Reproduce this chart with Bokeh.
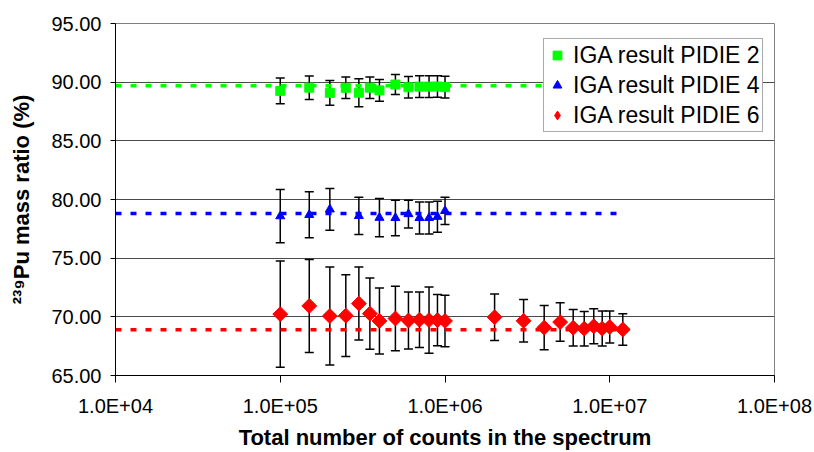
import numpy as np
from bokeh.plotting import figure
from bokeh.models import (ColumnDataSource, Whisker, TeeHead, FixedTicker,
                          PrintfTickFormatter, Legend, LegendItem)
from bokeh.embed import file_html
from bokeh.resources import INLINE

# ---------------- data ----------------
x_p2 = [1e5, 1.5e5, 2e5, 2.5e5, 3e5, 3.5e5, 4e5, 5e5, 6e5, 7e5, 8e5, 9e5, 1e6]
y_p2 = [89.26, 89.53, 89.09, 89.52, 89.10, 89.53, 89.30, 89.80, 89.56, 89.62, 89.62, 89.63, 89.58]
e_p2 = [1.10, 1.00, 1.05, 0.91, 1.20, 0.92, 0.92, 0.85, 0.92, 0.92, 0.92, 0.92, 0.92]

x_p4 = [1e5, 1.5e5, 2e5, 3e5, 4e5, 5e5, 6e5, 7e5, 8e5, 9e5, 1e6]
y_p4 = [78.58, 78.69, 79.16, 78.60, 78.45, 78.43, 78.76, 78.43, 78.43, 78.53, 79.03]
e_p4 = [2.27, 1.96, 1.78, 1.59, 1.63, 1.51, 1.18, 1.36, 1.36, 1.32, 1.17]

x_p6 = [1e5, 1.5e5, 2e5, 2.5e5, 3e5, 3.5e5, 4e5, 5e5, 6e5, 7e5, 8e5, 9e5, 1e6,
        2e6, 3e6, 4e6, 5e6, 6e6, 7e6, 8e6, 9e6, 1e7, 1.2e7]
y_p6 = [70.23, 70.93, 70.07, 70.10, 71.13, 70.27, 69.65, 69.86, 69.69, 69.75, 69.72, 69.72, 69.65,
        69.97, 69.66, 69.08, 69.55, 69.07, 68.99, 69.20, 69.00, 69.13, 68.92]
e_p6 = [4.52, 3.96, 4.17, 3.49, 3.11, 3.04, 2.81, 2.74, 2.43, 2.37, 2.82, 2.18, 2.19,
        1.98, 1.81, 1.88, 1.64, 1.56, 1.47, 1.49, 1.49, 1.36, 1.35]

ref_x = [1e4, 1.2e7]
ref_p2 = 89.7
ref_p4 = 78.8
ref_p6 = 68.9

labels = ["IGA result PIDIE 2", "IGA result PIDIE 4", "IGA result PIDIE 6"]
x_ticks = [1e4, 1e5, 1e6, 1e7, 1e8]
x_tick_labels = ["1.0E+04", "1.0E+05", "1.0E+06", "1.0E+07", "1.0E+08"]
y_ticks = [65, 70, 75, 80, 85, 90, 95]

FONT = "Liberation Sans"

p = figure(width=814, height=452, x_axis_type="log", x_range=(1e4, 1e8), y_range=(65, 95),
           output_backend="svg", toolbar_location=None,
           min_border_left=115, min_border_right=40, min_border_top=23, min_border_bottom=76)
p.background_fill_color = "white"
p.border_fill_color = "white"
p.outline_line_color = "#808080"
p.outline_line_width = 1

# grid
p.xgrid.grid_line_color = None
p.ygrid.grid_line_color = "#4a4a4a"
p.ygrid.grid_line_width = 1
p.ygrid.ticker = FixedTicker(ticks=y_ticks)

# axes
p.xaxis.ticker = FixedTicker(ticks=x_ticks)
p.xaxis.major_label_overrides = {int(t): l for t, l in zip(x_ticks, x_tick_labels)}
p.yaxis.ticker = FixedTicker(ticks=y_ticks)
p.yaxis.formatter = PrintfTickFormatter(format="%.2f")
for ax in (p.xaxis[0], p.yaxis[0]):
    ax.axis_line_color = "black"
    ax.axis_line_width = 1
    ax.major_tick_line_color = "black"
    ax.major_tick_in = 0
    ax.minor_tick_line_color = None
    ax.major_label_text_font = FONT
    ax.major_label_text_font_size = "20px"
    ax.major_label_text_color = "black"
    ax.axis_label_text_font = FONT
    ax.axis_label_text_font_style = "bold"
    ax.axis_label_text_font_size = "22px"
    ax.axis_label_text_color = "black"
p.xaxis.major_tick_out = 7
p.xaxis.major_label_standoff = 12
p.xaxis.axis_label = "Total number of counts in the spectrum"
p.xaxis.axis_label_standoff = 5
p.yaxis.major_tick_out = 5
p.yaxis.major_label_standoff = 9
p.yaxis.axis_label = "\u00b2\u00b3\u2079Pu mass ratio (%)"
p.yaxis.axis_label_standoff = 14

# reference dashed lines
for val, col in ((ref_p2, "#00ff00"), (ref_p4, "#0000ff"), (ref_p6, "#ff0000")):
    p.line(ref_x, [val, val], line_color=col, line_width=3.5, line_dash="6 9")

# (x, y, err, colour, plot marker, size, angle, legend marker)
series = [(x_p2, y_p2, e_p2, "#00ff00", "square", 9, 0.0, None),
          (x_p4, y_p4, e_p4, "#0000ff", "triangle", 9, 0.0, None),
          (x_p6, y_p6, e_p6, "#ff0000", "square", 10.5, np.pi / 4, "diamond")]

items = []
for (xs, ys, es, col, mk, sz, ang, leg_mk), lab in zip(series, labels):
    ys_a = np.array(ys)
    es_a = np.array(es)
    src = ColumnDataSource(dict(x=xs, y=ys, upper=ys_a + es_a, lower=ys_a - es_a))
    w = Whisker(source=src, base="x", upper="upper", lower="lower", dimension="height",
                line_color="black", line_width=1.5,
                upper_head=TeeHead(size=9, line_color="black", line_width=1.5),
                lower_head=TeeHead(size=9, line_color="black", line_width=1.5))
    w.level = "underlay"
    p.add_layout(w)
    leg_r = None
    if leg_mk is not None:
        # smaller diamond, fully hidden under the rotated square; used for the legend symbol
        leg_r = p.scatter("x", "y", source=src, marker=leg_mk, size=sz * 0.9,
                          fill_color=col, line_color=col)
    r = p.scatter("x", "y", source=src, marker=mk, size=sz, angle=ang,
                  fill_color=col, line_color=col)
    items.append(LegendItem(label=lab, renderers=[leg_r if leg_r is not None else r]))

legend = Legend(items=items, location=(428, 243))
legend.label_text_font = FONT
legend.label_text_font_size = "23px"
legend.label_text_color = "black"
legend.border_line_color = "#555555"
legend.border_line_width = 1
legend.background_fill_color = "white"
legend.background_fill_alpha = 1.0
legend.padding = 2
legend.margin = 0
legend.spacing = 2
legend.glyph_width = 22
legend.glyph_height = 28
legend.label_standoff = 5
legend.label_height = 28
p.add_layout(legend, "center")

open("out.html", "w").write(file_html(p, INLINE))
